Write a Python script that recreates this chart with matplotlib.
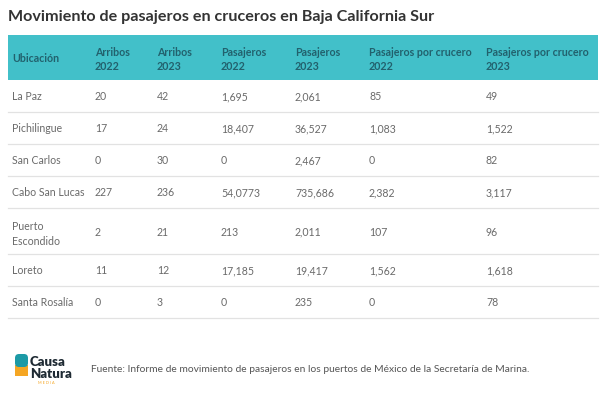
"""Tabla: movimiento de pasajeros en cruceros en Baja California Sur."""

import matplotlib.pyplot as plt
from matplotlib.patches import Rectangle, FancyBboxPatch

plt.rcParams["font.family"] = ["Lato", "DejaVu Sans"]

TITLE = "Movimiento de pasajeros en cruceros en Baja California Sur"
SOURCE = ("Fuente: Informe de movimiento de pasajeros en los puertos de "
          "México de la Secretaría de Marina.")

headers = ["Ubicación", "Arribos\n2022", "Arribos\n2023", "Pasajeros\n2022",
           "Pasajeros\n2023", "Pasajeros por crucero\n2022",
           "Pasajeros por crucero\n2023"]
ubicaciones = ["La Paz", "Pichilingue", "San Carlos", "Cabo San Lucas",
               "Puerto\nEscondido", "Loreto", "Santa Rosalía"]
arribos_2022 = ["20", "17", "0", "227", "2", "11", "0"]
arribos_2023 = ["42", "24", "30", "236", "21", "12", "3"]
pasajeros_2022 = ["1,695", "18,407", "0", "54,0773", "213", "17,185", "0"]
pasajeros_2023 = ["2,061", "36,527", "2,467", "735,686", "2,011", "19,417", "235"]
ppc_2022 = ["85", "1,083", "0", "2,382", "107", "1,562", "0"]
ppc_2023 = ["49", "1,522", "82", "3,117", "96", "1,618", "78"]

TEAL = "#42c0c9"
HEAD_TXT = "#22616d"
BODY_TXT = "#6a6a6a"
LINE = "#e2e2e2"

col_x = [12, 95, 157, 221, 295, 369, 486]

fig = plt.figure(figsize=(6, 4), dpi=100)
ax = fig.add_axes([0, 0, 1, 1])
ax.set_xlim(0, 600)
ax.set_ylim(400, 0)
ax.axis("off")

ax.text(8, 16, TITLE, fontsize=11.6, fontweight="bold", color="#333333",
        va="center_baseline", ha="left")

# encabezado
ax.add_patch(Rectangle((8, 35), 590, 45, color=TEAL, lw=0))
for x, h in zip(col_x, headers):
    ax.text(x, 57.5, h, fontsize=7.7, fontweight="bold", color=HEAD_TXT,
            va="center_baseline", ha="left", linespacing=1.3)

columns = [ubicaciones, arribos_2022, arribos_2023, pasajeros_2022,
           pasajeros_2023, ppc_2022, ppc_2023]
y = 80
for i in range(len(ubicaciones)):
    h = 46 if "\n" in ubicaciones[i] else 32
    yc = y + h / 2
    for x, col in zip(col_x, columns):
        ax.text(x, yc, col[i], fontsize=7.6, color=BODY_TXT,
                va="center_baseline", ha="left", linespacing=1.45)
    y += h
    ax.plot([8, 598], [y, y], color=LINE, lw=0.9)

# logo
ax.add_patch(Rectangle((15, 365), 13, 11, color="#f5a623", lw=0))
ax.add_patch(FancyBboxPatch((15, 354), 13, 13, boxstyle="round,pad=0,rounding_size=4",
                            color="#1c9aa6", lw=0))
ax.text(30, 361, "Causa", fontsize=9.5, fontweight="heavy", color="#1e2a33",
        va="center_baseline", ha="left")
ax.text(30, 373, "Natura", fontsize=9.5, fontweight="heavy", color="#1e2a33",
        va="center_baseline", ha="left")
ax.text(38, 383, "M E D I A", fontsize=2.8, color="#f5a623",
        va="center_baseline", ha="left")

ax.text(91, 369, SOURCE, fontsize=7.4, color="#555555",
        va="center_baseline", ha="left")

fig.savefig("out.png", dpi=100)
